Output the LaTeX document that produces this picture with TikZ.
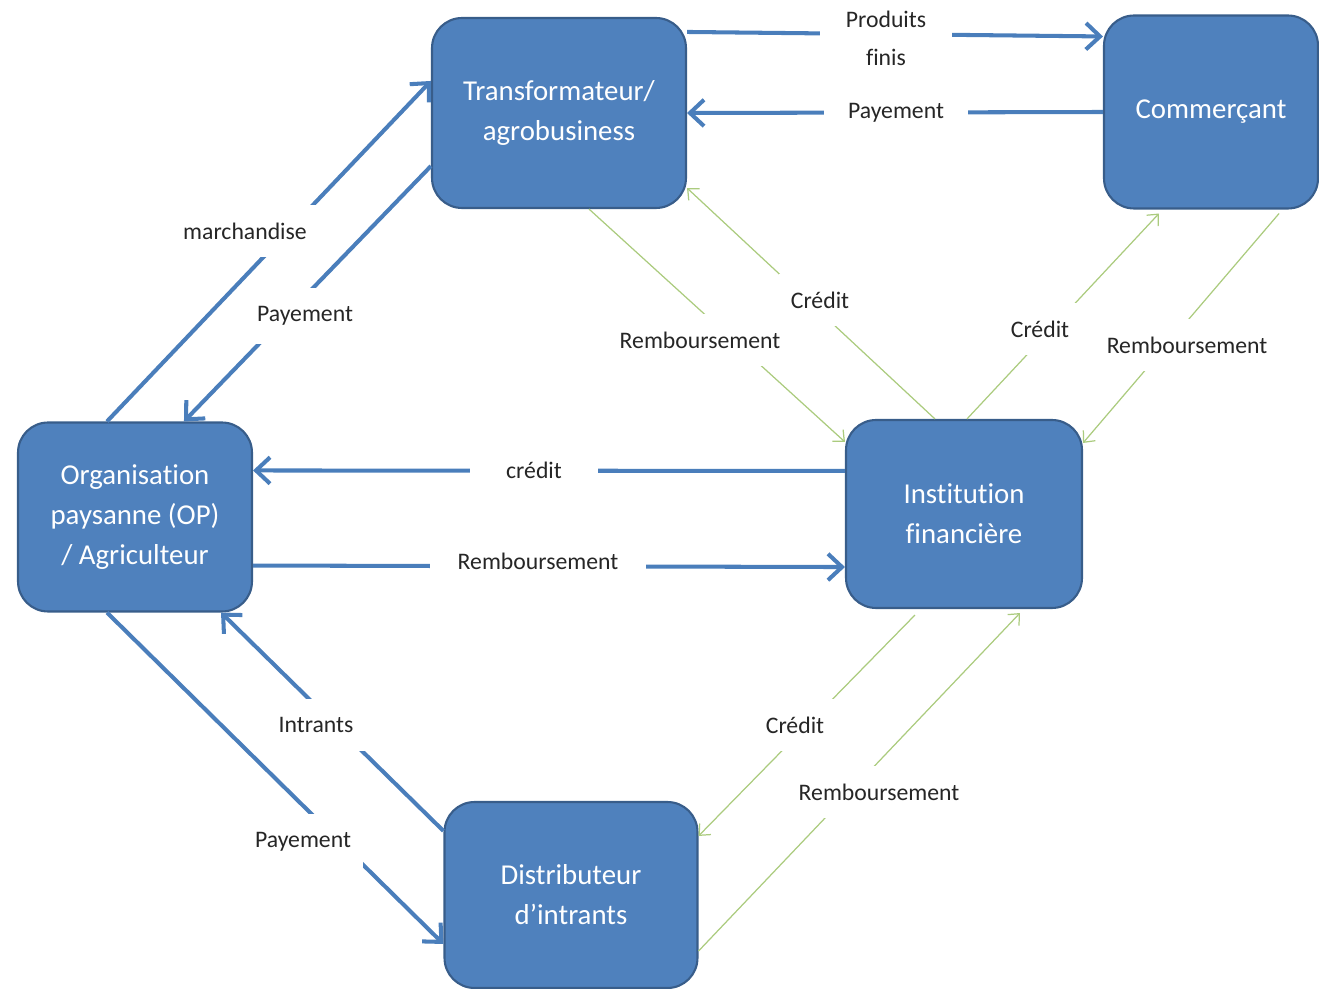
\documentclass[tikz,border=0pt]{standalone}
\usepackage{fontspec}
\setmainfont{Carlito}[RawFeature={-liga;-clig;-calt}]
\usepackage{tikz}
\usetikzlibrary{calc}
\usetikzlibrary{arrows.meta}

\definecolor{boxblue}{HTML}{4F81BD}
\definecolor{boxedge}{HTML}{385D8A}
\definecolor{flowblue}{HTML}{4A7EBB}
\definecolor{loangreen}{HTML}{ABCB7E}

\tikzset{
  actor/.style={draw=boxedge, line width=1.2pt, fill=boxblue, rounded corners=0.6cm,
    text=white, align=center, inner sep=0pt,
    font=\fontsize{16.4}{22.7}\selectfont},
  flow/.style={draw=flowblue, line width=2.3pt, -{Straight Barb[length=8pt,width=15pt]}},
  loan/.style={draw=loangreen, line width=0.7pt, -{Straight Barb[length=5pt,width=9pt]}},
  lbl/.style={fill=white, text=black!85, align=center, inner xsep=0.24cm, inner ysep=0.36cm,
    font=\fontsize{13.5}{18.7}\selectfont},
}

\begin{document}
\begin{tikzpicture}[x=0.02cm, y=-0.02cm]
        \useasboundingbox (0,0) rectangle (1319,989);

        % The actors
        \node[actor, minimum width=5.08cm, minimum height=3.8cm] (transf) at (559,113) {Transformateur/\\agrobusiness};
        \node[actor, minimum width=4.28cm, minimum height=3.86cm] (comm) at (1211,112) {Commerçant};
        \node[actor, minimum width=4.68cm, minimum height=3.78cm] (org) at (135,517) {Organisation\\paysanne (OP)\\/ Agriculteur};
        \node[actor, minimum width=4.72cm, minimum height=3.76cm] (inst) at (964,514) {Institution\\financière};
        \node[actor, minimum width=5.06cm, minimum height=3.72cm] (dist) at (571,895) {Distributeur\\d’intrants};

        % Goods and payments
        \draw[flow] ($(org.north west)+(90,0)$) -- ($(transf.north west)+(0,64)$);
        \draw[flow] ($(transf.south west)+(0,-43)$) -- ($(org.north west)+(167,0)$);
        \draw[flow] ($(transf.north east)+(0,15)$) -- ($(comm.north west)+(0,22)$);
        \draw[flow] (comm.west) -- (transf.east);
        \draw[flow] ($(inst.north west)+(0,52)$) -- ($(org.north east)+(0,49)$);
        \draw[flow] ($(org.south east)+(0,-47)$) -- ($(inst.south west)+(0,-42)$);
        \draw[flow] ($(dist.north west)+(0,30)$) -- ($(org.south east)+(-32,0)$);
        \draw[flow] ($(org.south west)+(90,0)$) -- ($(dist.north west)+(0,143)$);

        % Credits and repayments
        \draw[loan] ($(transf.south west)+(158,0)$) -- ($(inst.north west)+(0,23)$);
        \draw[loan] ($(inst.north west)+(90,0)$) -- ($(transf.south east)+(0,-21)$);
        \draw[loan] ($(inst.north west)+(122,0)$) -- ($(comm.south west)+(56,4)$);
        \draw[loan] ($(comm.south east)+(-40,4)$) -- ($(inst.north east)+(0,24)$);
        \draw[loan] ($(inst.south west)+(70,6)$) -- ($(dist.north east)+(0,35)$);
        \draw[loan] ($(dist.south east)+(0,-38)$) -- ($(inst.south west)+(175,4)$);

        % The labels
        \node[lbl, minimum width=2.9cm] (march) at (245,231) {marchandise};
        \node[lbl] (paytl) at (305,316) {Payement};
        \node[lbl, minimum width=2.64cm, inner ysep=0.1cm] (prod) at (886,38) {Produits\\[3pt]finis};
        \node[lbl, minimum width=2.88cm] (paytop) at (896,113) {Payement};
        \node[lbl, minimum width=2.56cm] (credmid) at (534,470) {crédit};
        \node[lbl, minimum width=4.34cm] (rembmid) at (538,561) {Remboursement};
        \node[lbl] (intr) at (316,725) {Intrants};
        \node[lbl] (paybl) at (303,842) {Payement};
        \node[lbl] (rembtl) at (700,340) {Remboursement};
        \node[lbl] (credtl) at (820,300) {Crédit};
        \node[lbl] (credtr) at (1040,329) {Crédit};
        \node[lbl] (rembtr) at (1187,345) {Remboursement};
        \node[lbl] (credbot) at (795,725) {Crédit};
        \node[lbl] (rembbot) at (879,792) {Remboursement};
    \end{tikzpicture}
\end{document}
